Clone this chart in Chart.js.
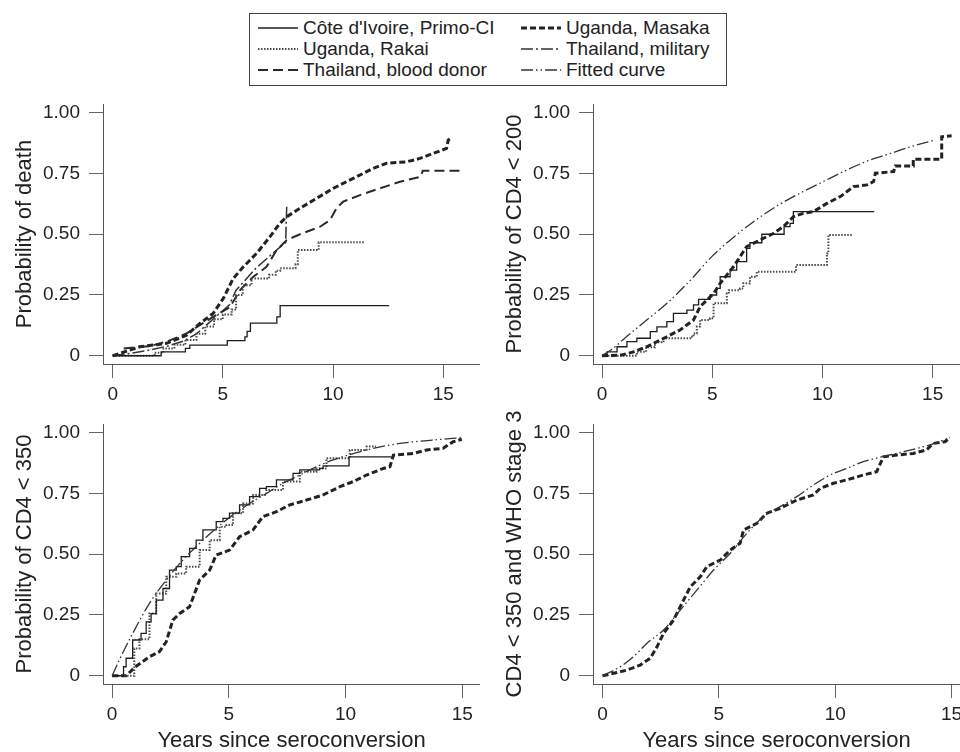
<!DOCTYPE html>
<html>
<head>
<meta charset="utf-8">
<script src="https://cdn.jsdelivr.net/npm/chart.js@4.4.0/dist/chart.umd.min.js"></script>
<style>
body { margin: 0; background: #fff; width: 960px; height: 752px; position: relative; overflow: hidden;
       font-family: "Liberation Sans", Arial, sans-serif; color: #222; }
canvas { position: absolute; }
#legend { position: absolute; left: 249px; top: 13px; width: 476px; height: 71px; border: 1px solid #444; }
.lab { position: absolute; font-size: 19px; line-height: 21px; white-space: nowrap; }
.smp { position: absolute; }
</style>
</head>
<body>
<div id="legend"></div>
<canvas id="death" width="480" height="320" style="left:0;top:90px"></canvas>
<canvas id="cd200" width="480" height="320" style="left:480px;top:90px"></canvas>
<canvas id="cd350" width="480" height="342" style="left:0;top:410px"></canvas>
<canvas id="who3" width="480" height="342" style="left:480px;top:410px"></canvas>
<script>
// tick values and labels
const xTicks = [0, 5, 10, 15];
const yTicks = [0, 0.25, 0.5, 0.75, 1];
const yTickLabels = ['0', '0.25', '0.50', '0.75', '1.00'];
const xTitle = 'Years since seroconversion';
const names = {
  cote: "Côte d'Ivoire, Primo-CI",
  masaka: 'Uganda, Masaka',
  rakai: 'Uganda, Rakai',
  military: 'Thailand, military',
  donor: 'Thailand, blood donor',
  fitted: 'Fitted curve'
};

// probability of death, [years, probability]
const deathCote = [[0,0],[2.2,0.016],[3.3,0.03],[3.5,0.044],[5.2,0.062],[6.0,0.078],[6.1,0.1],[6.25,0.134],[7.45,0.16],[7.6,0.206],[12.55,0.206]];
const deathRakai = [[0,0],[1.85,0],[1.9,0.012],[2.3,0.03],[2.8,0.045],[3.3,0.065],[3.8,0.09],[4.2,0.12],[4.6,0.15],[5.0,0.17],[5.4,0.19],[5.6,0.25],[5.9,0.29],[6.3,0.318],[7.1,0.333],[7.4,0.35],[7.6,0.36],[8.3,0.376],[8.4,0.435],[9.3,0.435],[9.35,0.467],[11.45,0.467]];
const deathDonor = [[0.5,0.03],[1.7,0.04],[2.45,0.058],[3.36,0.092],[3.96,0.126],[4.56,0.16],[5.32,0.2],[5.78,0.27],[6.38,0.325],[6.98,0.366],[7.44,0.435],[7.9,0.476],[8.5,0.5],[9.41,0.531],[9.86,0.558],[10.16,0.607],[10.46,0.634],[11.22,0.661],[12.13,0.689],[13.04,0.716],[13.98,0.737],[14.07,0.761],[15.83,0.761]];
const deathMasaka = [[0,0],[1.24,0.037],[2.45,0.051],[3.36,0.085],[3.96,0.133],[4.56,0.174],[5.02,0.236],[5.47,0.318],[5.93,0.366],[6.53,0.421],[7.14,0.49],[7.59,0.545],[7.9,0.572],[8.5,0.607],[9.26,0.648],[10.01,0.689],[10.92,0.73],[11.82,0.771],[12.43,0.792],[13.34,0.798],[13.94,0.812],[14.55,0.833],[15.15,0.853],[15.23,0.888],[15.41,0.899]];
const deathMilitary = [[0,0],[0.8,0.01],[1.5,0.02],[2.5,0.04],[3.2,0.06],[3.8,0.09],[4.3,0.13],[4.8,0.17],[5.3,0.21],[5.6,0.27],[6.0,0.31],[6.5,0.36],[7.0,0.4],[7.5,0.44],[7.85,0.465],[7.9,0.62]];

// probability of CD4 < 200
const cd200Fitted = [[0,0],[0.5,0.03],[1,0.07],[2,0.145],[3,0.22],[4,0.31],[5,0.41],[6,0.49],[7,0.56],[8,0.62],[9,0.67],[10,0.715],[11,0.76],[12,0.8],[13,0.83],[14,0.86],[15,0.885]];
const cd200Cote = [[0,0],[0.23,0.016],[0.68,0.037],[1.13,0.058],[1.58,0.072],[2.19,0.099],[2.49,0.119],[2.94,0.14],[3.24,0.174],[3.85,0.188],[4.15,0.209],[4.38,0.232],[4.9,0.25],[5.2,0.277],[5.36,0.325],[5.81,0.352],[6.11,0.387],[6.56,0.442],[6.71,0.465],[7.25,0.5],[8.26,0.531],[8.53,0.545],[8.68,0.593],[12.35,0.593]];
const cd200Masaka = [[0,0],[0.9,0.003],[1.43,0.016],[2.03,0.037],[2.94,0.078],[3.54,0.106],[4.15,0.147],[4.45,0.202],[5.06,0.256],[5.36,0.298],[5.96,0.366],[6.56,0.449],[7.16,0.476],[7.77,0.503],[8.22,0.531],[8.68,0.572],[9.13,0.586],[9.59,0.593],[10.2,0.627],[10.81,0.655],[11.41,0.696],[12.02,0.703],[12.32,0.717],[12.4,0.751],[13.23,0.758],[13.3,0.781],[14.12,0.781],[14.12,0.809],[15.41,0.809],[15.41,0.901],[15.86,0.905]];
const cd200Rakai = [[0,0],[1.5,0],[1.58,0.016],[2.0,0.035],[2.4,0.055],[2.79,0.072],[4.0,0.078],[4.15,0.092],[4.3,0.12],[4.45,0.147],[4.9,0.154],[5.06,0.216],[5.66,0.256],[5.75,0.27],[6.26,0.277],[6.41,0.298],[6.71,0.325],[7.02,0.346],[8.76,0.346],[8.8,0.373],[10.12,0.373],[10.2,0.421],[10.27,0.497],[11.4,0.497]];

// probability of CD4 < 350
const cd350Fitted = [[0,0],[0.31,0.065],[0.88,0.174],[1.6,0.298],[2.32,0.394],[3.03,0.476],[3.75,0.545],[4.46,0.607],[5.18,0.662],[5.89,0.709],[6.61,0.75],[7.32,0.792],[8.04,0.826],[8.75,0.86],[9.47,0.888],[10.9,0.929],[12.33,0.956],[13.76,0.97],[14.98,0.98]];
const cd350Cote = [[0,0],[0.46,0],[0.49,0.037],[0.6,0.072],[0.88,0.147],[1.24,0.174],[1.46,0.222],[1.67,0.256],[1.89,0.311],[2.18,0.359],[2.46,0.435],[2.75,0.449],[2.96,0.49],[3.32,0.524],[3.6,0.558],[3.89,0.6],[4.46,0.634],[4.75,0.648],[5.03,0.669],[5.46,0.703],[5.89,0.737],[6.32,0.771],[6.61,0.778],[7.04,0.806],[7.75,0.833],[8.04,0.847],[8.89,0.853],[9.04,0.864],[10.1,0.864],[10.15,0.901],[11.97,0.901]];
const cd350Rakai = [[0,0],[0.81,0],[0.95,0.112],[1.17,0.15],[1.6,0.256],[1.89,0.338],[2.32,0.407],[2.75,0.421],[3.17,0.449],[3.75,0.517],[4.18,0.558],[4.61,0.613],[4.9,0.62],[5.18,0.669],[5.61,0.709],[6.04,0.744],[6.61,0.764],[7.32,0.799],[8.04,0.84],[8.75,0.853],[9.18,0.895],[10.18,0.929],[10.9,0.943],[11.3,0.943]];
const cd350Masaka = [[0,0],[0.6,0],[1.0,0.037],[1.6,0.078],[2.03,0.099],[2.32,0.14],[2.6,0.229],[2.89,0.256],[3.32,0.284],[3.75,0.394],[4.18,0.435],[4.46,0.497],[5.03,0.517],[5.46,0.572],[6.04,0.6],[6.46,0.655],[7.04,0.675],[7.61,0.703],[8.33,0.723],[9.04,0.744],[9.76,0.778],[10.33,0.799],[10.9,0.826],[11.62,0.853],[11.9,0.86],[12.05,0.908],[12.9,0.915],[13.47,0.929],[14.18,0.936],[14.61,0.963],[14.98,0.973]];

// CD4 < 350 and WHO stage 3
const whoFitted = [[0,0],[0.76,0.037],[1.33,0.078],[1.9,0.133],[2.62,0.188],[3.34,0.27],[4.05,0.352],[4.77,0.435],[5.48,0.503],[6.2,0.586],[6.92,0.655],[7.63,0.696],[8.35,0.737],[9.06,0.785],[9.78,0.826],[10.49,0.853],[11.21,0.881],[11.92,0.899],[12.64,0.915],[13.35,0.932],[14.07,0.95],[14.93,0.98]];
const whoMasaka = [[0,0],[0.47,0.01],[1.05,0.023],[1.62,0.044],[2.05,0.072],[2.34,0.119],[2.62,0.174],[3.05,0.229],[3.48,0.311],[3.77,0.366],[4.2,0.407],[4.48,0.449],[5.06,0.476],[5.48,0.517],[5.91,0.545],[6.06,0.6],[6.63,0.627],[7.06,0.669],[7.63,0.689],[8.35,0.723],[9.06,0.744],[9.35,0.771],[9.92,0.792],[10.49,0.806],[11.21,0.826],[11.78,0.84],[12.07,0.901],[12.64,0.908],[13.35,0.915],[13.92,0.929],[14.21,0.956],[14.71,0.963],[14.93,0.98]];

const FONT = "'Liberation Sans', Arial, sans-serif";
Chart.defaults.font.family = FONT;
Chart.defaults.color = '#222';

const styles = {
  cote:     { borderColor: '#1e1e1e', borderWidth: 1.3, borderDash: [], stepped: true },
  rakai:    { borderColor: '#4a4a4a', borderWidth: 2, borderDash: [1.5, 1.5], stepped: true },
  donor:    { borderColor: '#2a2a2a', borderWidth: 2, borderDash: [10, 5] },
  masaka:   { borderColor: '#222', borderWidth: 3, borderDash: [6, 3] },
  military: { borderColor: '#333', borderWidth: 1.5, borderDash: [12, 3, 2, 3] },
  fitted:   { borderColor: '#333', borderWidth: 1.3, borderDash: [12, 3, 1.5, 3, 1.5, 3], cubicInterpolationMode: 'monotone' }
};

function ds(key, pts) {
  return Object.assign({
    label: names[key],
    data: pts.map(p => ({ x: p[0], y: p[1] })),
    pointRadius: 0,
    fill: false
  }, styles[key]);
}

function panel(id, datasets, o) {
  new Chart(document.getElementById(id), {
    type: 'line',
    data: { datasets: datasets },
    options: {
      responsive: false,
      animation: false,
      layout: { padding: { top: 14, right: 0, left: 0, bottom: 0 } },
      plugins: { legend: { display: false }, tooltip: { enabled: false } },
      scales: {
        x: {
          type: 'linear', min: o.xmin, max: o.xmax,
          afterBuildTicks: s => { s.ticks = xTicks.map(v => ({ value: v })); },
          afterFit: s => { s.height = o.xh; s.paddingLeft = 0; s.paddingRight = 0; },
          grid: { drawOnChartArea: false, drawTicks: true, tickLength: 14, color: '#666' },
          border: { display: true, color: '#555', width: 1 },
          ticks: { padding: 5, autoSkip: false, maxRotation: 0, font: { size: 19 }, color: '#222' },
          title: { display: o.xtitle, text: xTitle, font: { size: 22, lineHeight: 1 }, color: '#222', padding: 0 }
        },
        y: {
          min: -0.034, max: 1.036,
          afterBuildTicks: s => { s.ticks = yTicks.map(v => ({ value: v })); },
          afterFit: s => { s.width = o.yw; s.paddingTop = 0; s.paddingBottom = 0; },
          grid: { drawOnChartArea: false, drawTicks: true, tickLength: 14, color: '#666' },
          border: { display: true, color: '#555', width: 1 },
          ticks: { padding: 9, font: { size: 19 }, color: '#222',
                   callback: v => yTickLabels[yTicks.indexOf(v)] },
          title: { display: true, text: o.ytitle, font: { size: 22 }, color: '#222', padding: { top: o.tp, bottom: 0 } }
        }
      }
    }
  });
}

panel('death', [ds('cote', deathCote), ds('rakai', deathRakai), ds('donor', deathDonor), ds('masaka', deathMasaka), ds('military', deathMilitary)],
  { xmin: -0.44, xmax: 16.67, xh: 46, yw: 103, tp: 12, ytitle: 'Probability of death', xtitle: false });
panel('cd200', [ds('fitted', cd200Fitted), ds('cote', cd200Cote), ds('masaka', cd200Masaka), ds('rakai', cd200Rakai)],
  { xmin: -0.41, xmax: 16.24, xh: 46, yw: 113, tp: 22, ytitle: 'Probability of CD4 < 200', xtitle: false });
panel('cd350', [ds('fitted', cd350Fitted), ds('cote', cd350Cote), ds('rakai', cd350Rakai), ds('masaka', cd350Masaka)],
  { xmin: -0.39, xmax: 15.76, xh: 68, yw: 103, tp: 12, ytitle: 'Probability of CD4 < 350', xtitle: true });
panel('who3', [ds('fitted', whoFitted), ds('masaka', whoMasaka)],
  { xmin: -0.41, xmax: 15.36, xh: 68, yw: 113, tp: 22, ytitle: 'CD4 < 350 and WHO stage 3', xtitle: true });

// legend: two columns of three
const legendOrder = [['cote', 'rakai', 'donor'], ['masaka', 'military', 'fitted']];
const legend = document.getElementById('legend');
const colX = [8, 271], rowY = [3, 24, 45];
legendOrder.forEach((col, ci) => {
  col.forEach((key, ri) => {
    const st = styles[key];
    const svg = document.createElementNS('http://www.w3.org/2000/svg', 'svg');
    svg.setAttribute('class', 'smp');
    svg.setAttribute('width', 40); svg.setAttribute('height', 21);
    svg.style.left = colX[ci] + 'px'; svg.style.top = rowY[ri] + 'px';
    const ln = document.createElementNS('http://www.w3.org/2000/svg', 'line');
    ln.setAttribute('x1', 0); ln.setAttribute('x2', 40);
    ln.setAttribute('y1', 11); ln.setAttribute('y2', 11);
    ln.setAttribute('stroke', st.borderColor);
    ln.setAttribute('stroke-width', st.borderWidth);
    if (st.borderDash.length) ln.setAttribute('stroke-dasharray', st.borderDash.join(' '));
    svg.appendChild(ln);
    legend.appendChild(svg);
    const t = document.createElement('div');
    t.className = 'lab';
    t.textContent = names[key];
    t.style.left = (colX[ci] + 45) + 'px'; t.style.top = rowY[ri] + 'px';
    legend.appendChild(t);
  });
});
</script>
</body>
</html>
